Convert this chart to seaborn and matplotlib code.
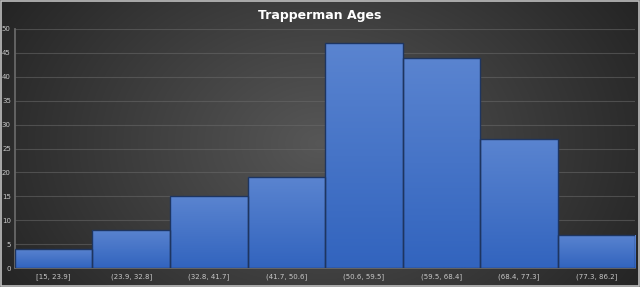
import numpy as np
import pandas as pd
import matplotlib
matplotlib.use("Agg")
import matplotlib.pyplot as plt
import seaborn as sns
from matplotlib.patches import Rectangle

bins = ["[15, 23.9]", "(23.9, 32.8]", "(32.8, 41.7]", "(41.7, 50.6]",
        "(50.6, 59.5]", "(59.5, 68.4]", "(68.4, 77.3]", "(77.3, 86.2]"]
counts = [4, 8, 15, 19, 47, 44, 27, 7]
title = "Trapperman Ages"

sns.set_theme(style="dark")
plt.rcParams['font.family'] = ['DejaVu Sans']

fig = plt.figure(figsize=(6.4, 2.87), dpi=100)

# background gradient
bg = fig.add_axes([0, 0, 1, 1], zorder=-10)
xs = np.linspace(-1, 1, 400)
ys = np.linspace(-1, 1, 200)
X, Y = np.meshgrid(xs, ys)
r = np.sqrt((X * 1.0) ** 2 + (Y * 0.6) ** 2)
val = 0.34 - 0.17 * np.clip(r, 0, 1.2)
img = np.dstack([val, val, val])
bg.imshow(img, aspect='auto', extent=[0, 1, 0, 1], interpolation='bilinear')
bg.set_axis_off()
bg.add_patch(Rectangle((0.002, 0.004), 0.996, 0.992, fill=False, edgecolor='#bfbfbf', lw=1.2, transform=bg.transAxes))

ax = fig.add_axes([0.0234, 0.066, 0.969, 0.833])
ax.set_facecolor('none')
df = pd.DataFrame({"bin": bins, "count": counts})
sns.barplot(data=df, x="bin", y="count", ax=ax, width=1.0, color="#3e6cc6",
            saturation=1, edgecolor="#1e3560", linewidth=1.0, zorder=3)

# gradient on bars
for p in ax.patches:
    x0, y0 = p.get_x(), p.get_y()
    w, h = p.get_width(), p.get_height()
    grad = np.linspace(0, 1, 100).reshape(-1, 1)
    top = np.array([0x5a, 0x84, 0xd0]) / 255
    bot = np.array([0x32, 0x64, 0xbe]) / 255
    cols = bot + (top - bot) * grad
    im = ax.imshow(cols.reshape(100, 1, 3), extent=[x0, x0 + w, y0, y0 + h],
                   origin='lower', aspect='auto', zorder=3.5)
    im.set_clip_path(p)
    p.set_facecolor('none')
    p.set_zorder(4)

ax.set_xlim(-0.5, len(bins) - 0.5)
ax.set_ylim(0, 50)
ax.set_yticks(range(0, 51, 5))
ax.grid(axis='y', color='#6a6a6a', lw=0.8, alpha=0.55, zorder=0)
ax.grid(axis='x', visible=False)
ax.tick_params(axis='both', colors='#c8c8c8', labelsize=5, length=0, pad=3)
ax.tick_params(axis='x', pad=4)
ax.set_xlabel("")
ax.set_ylabel("")
for s in ['top', 'right']:
    ax.spines[s].set_visible(False)
ax.spines['bottom'].set_color('#6a6a6a')
ax.spines['bottom'].set_visible(True)
ax.spines['left'].set_visible(True)
ax.spines['left'].set_color('#6a6a6a')

fig.text(0.5, 0.945, title, ha='center', va='center', color='white',
         fontsize=9, fontweight='bold')

fig.savefig("out.png", dpi=100)
